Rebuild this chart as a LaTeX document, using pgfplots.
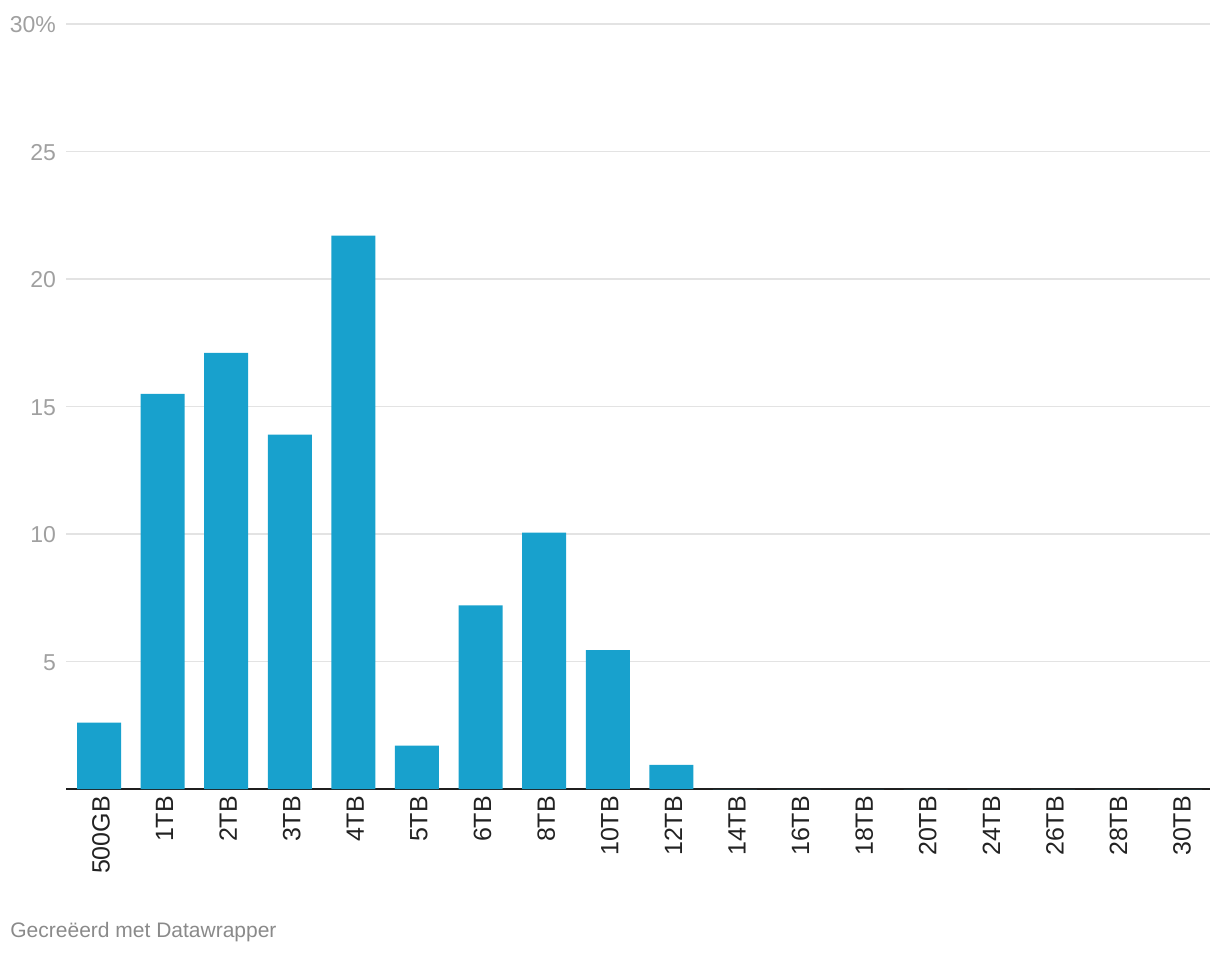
\documentclass[border=0pt]{standalone}
\usepackage{pgfplots}
\pgfplotsset{compat=1.18}
\usepackage{fontspec}
\setmainfont{Liberation Sans}
\definecolor{barblue}{HTML}{18A1CD}
\definecolor{gridgray}{HTML}{E3E3E3}
\definecolor{ylab}{HTML}{A0A0A0}
\definecolor{xlab}{HTML}{222222}
\definecolor{foot}{HTML}{8A8A8A}
\begin{document}
\begin{tikzpicture}
\useasboundingbox (0pt,0pt) rectangle (610pt,477pt);
\begin{axis}[
  at={(33pt,82.5pt)}, anchor=south west,
  width=572pt, height=382.5pt, scale only axis,
  xmin=-0.519, xmax=17.47,
  ymin=0, ymax=30,
  axis line style={draw=none},
  ytick={5,10,15,20,25,30},
  yticklabels={5,10,15,20,25,30\%},
  ymajorgrids, grid style={gridgray, line width=0.7pt},
  major tick length=0pt,
  yticklabel style={font=\fontsize{11.5}{12}\selectfont, color=ylab, anchor=east, xshift=-1.5pt, yshift=-0.5pt},
  extra y ticks={0},
  extra y tick labels={},
  extra y tick style={grid style={black!88, line width=1pt}},
  xtick={0,...,17},
  xticklabels={500GB,1TB,2TB,3TB,4TB,5TB,6TB,8TB,10TB,12TB,14TB,16TB,18TB,20TB,24TB,26TB,28TB,30TB},
  xticklabel style={font=\fontsize{12.5}{13}\selectfont, color=xlab, rotate=90, anchor=east, yshift=-1pt, xshift=0pt},
  /pgf/number format/assume math mode=true,
  clip=false,
]
\addplot[ybar, bar width=22pt, fill=barblue, draw=none] coordinates {
  (0,2.6) (1,15.5) (2,17.1) (3,13.9) (4,21.7) (5,1.7) (6,7.2) (7,10.05) (8,5.45) (9,0.95)
  (10,0) (11,0) (12,0) (13,0) (14,0) (15,0) (16,0) (17,0)
};
\end{axis}
\node[anchor=west, text=foot, font=\fontsize{10.5}{11}\selectfont, inner sep=0pt] at (5pt,11pt) {Gecreëerd met Datawrapper};
\end{tikzpicture}
\end{document}
